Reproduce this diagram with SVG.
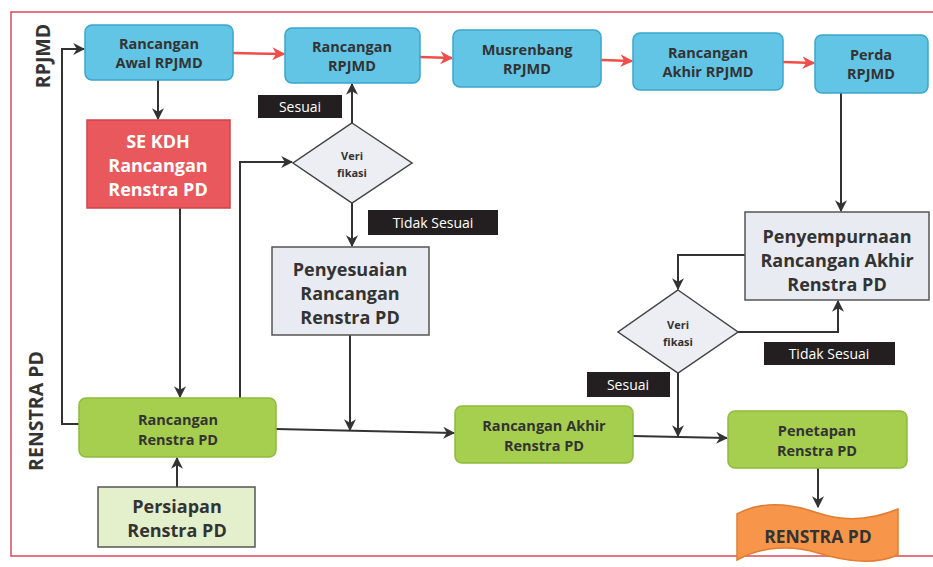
<svg xmlns="http://www.w3.org/2000/svg" width="933" height="567" viewBox="0 0 933 567">
<defs>
<style>
.blue{fill:#62c5e6;stroke:#3aa6cc;stroke-width:1.5}
.green{fill:#a7cf4f;stroke:#8fbb3d;stroke-width:1.5}
.lgreen{fill:#e4efcc;stroke:#555;stroke-width:1.5}
.grey{fill:#e9ebf2;stroke:#555;stroke-width:1.5}
.dia{fill:#eceef4;stroke:#444;stroke-width:1.5}
.red{fill:#e9585d;stroke:#d04448;stroke-width:1.5}
.lbl{fill:#231f20}
text{font-family:"Open Sans","Liberation Sans",sans-serif;font-weight:bold;text-anchor:middle}
.t{font-size:14.5px;fill:#333}
.tb{font-size:18px;fill:#333}
.tw{font-size:18px;fill:#fff}
.td{font-size:11px;fill:#333}
.tl{font-size:14px;fill:#fff;font-weight:normal}
.lane{font-size:19.5px;fill:#333}
.c{fill:none;stroke:#333;stroke-width:2}
.cr{fill:none;stroke:#f04e4a;stroke-width:2.5}
</style>
<marker id="ab" viewBox="0 0 10 10" refX="9" refY="5" markerWidth="12" markerHeight="12" markerUnits="userSpaceOnUse" orient="auto"><path d="M0,0 L10,5 L0,10 L3,5 z" fill="#333"/></marker>
<marker id="ar" viewBox="0 0 10 10" refX="9" refY="5" markerWidth="13" markerHeight="13" markerUnits="userSpaceOnUse" orient="auto"><path d="M0,0 L10,5 L0,10 L3,5 z" fill="#f04e4a"/></marker>
</defs>
<rect width="933" height="567" fill="#fff"/>
<rect x="11" y="12" width="930" height="544" fill="none" stroke="#d9485a" stroke-width="1.5"/>
<text class="lane" transform="translate(50,56) rotate(-90)">RPJMD</text>
<text class="lane" transform="translate(43,411) rotate(-90)">RENSTRA PD</text>

<g id="connectors">
<path class="cr" d="M233,53 L284,54" marker-end="url(#ar)"/>
<path class="cr" d="M420,57 L452,58" marker-end="url(#ar)"/>
<path class="cr" d="M601,60 L632,61" marker-end="url(#ar)"/>
<path class="cr" d="M783,62 L814,63" marker-end="url(#ar)"/>
<path class="c" d="M158,80 V119" marker-end="url(#ab)"/>
<path class="c" d="M180,208 V397" marker-end="url(#ab)"/>
<path class="c" d="M79,424 H62 V49 H84" marker-end="url(#ab)"/>
<path class="c" d="M240,398 V162 H292" marker-end="url(#ab)"/>
<path class="c" d="M352,123 V84" marker-end="url(#ab)"/>
<path class="c" d="M352,203 V246" marker-end="url(#ab)"/>
<path class="c" d="M350,335 V430" marker-end="url(#ab)"/>
<path class="c" d="M276,429 L454,433" marker-end="url(#ab)"/>
<path class="c" d="M177,487 V458" marker-end="url(#ab)"/>
<path class="c" d="M633,436 L727,438" marker-end="url(#ab)"/>
<path class="c" d="M678,373 V436" marker-end="url(#ab)"/>
<path class="c" d="M745,255 H678 V289" marker-end="url(#ab)"/>
<path class="c" d="M738,332 H838 V301" marker-end="url(#ab)"/>
<path class="c" d="M841,93 V211" marker-end="url(#ab)"/>
<path class="c" d="M818,468 V507" marker-end="url(#ab)"/>
</g>

<g id="n-awal"><rect class="blue" x="85" y="25" width="148" height="55" rx="7"/><text class="t" x="159" y="49">Rancangan</text><text class="t" x="159" y="68">Awal RPJMD</text></g>
<g id="n-ranc"><rect class="blue" x="285" y="28" width="135" height="55" rx="7"/><text class="t" x="352" y="52">Rancangan</text><text class="t" x="352" y="71">RPJMD</text></g>
<g id="n-musren"><rect class="blue" x="453" y="30" width="148" height="57" rx="7"/><text class="t" x="527" y="55">Musrenbang</text><text class="t" x="527" y="74">RPJMD</text></g>
<g id="n-akhir"><rect class="blue" x="633" y="33" width="150" height="57" rx="7"/><text class="t" x="708" y="58">Rancangan</text><text class="t" x="708" y="77">Akhir RPJMD</text></g>
<g id="n-perda"><rect class="blue" x="815" y="35" width="113" height="58" rx="7"/><text class="t" x="871" y="60">Perda</text><text class="t" x="871" y="79">RPJMD</text></g>

<g id="n-sekdh"><rect class="red" x="87" y="120" width="143" height="88"/><text class="tw" x="158" y="148">SE KDH</text><text class="tw" x="158" y="172">Rancangan</text><text class="tw" x="158" y="196">Renstra PD</text></g>

<g id="n-ver1"><polygon class="dia" points="352,123 412,163 352,203 293,163"/><text class="td" x="352" y="160">Veri</text><text class="td" x="352" y="177">fikasi</text></g>
<g id="l-sesuai1"><rect class="lbl" x="258" y="95" width="84" height="23"/><text class="tl" x="300" y="112">Sesuai</text></g>
<g id="l-tidak1"><rect class="lbl" x="368" y="210" width="130" height="25"/><text class="tl" x="433" y="228">Tidak Sesuai</text></g>

<g id="n-penyesuaian"><rect class="grey" x="272" y="247" width="157" height="88"/><text class="tb" x="350" y="276">Penyesuaian</text><text class="tb" x="350" y="300">Rancangan</text><text class="tb" x="350" y="324">Renstra PD</text></g>

<g id="n-rrenstra"><rect class="green" x="79" y="398" width="197" height="59" rx="7"/><text class="t" x="178" y="425">Rancangan</text><text class="t" x="178" y="445">Renstra PD</text></g>
<g id="n-persiapan"><rect class="lgreen" x="98" y="487" width="157" height="60"/><text class="tb" x="177" y="513">Persiapan</text><text class="tb" x="177" y="537">Renstra PD</text></g>

<g id="n-rakhir"><rect class="green" x="455" y="406" width="178" height="57" rx="7"/><text class="t" x="544" y="431">Rancangan Akhir</text><text class="t" x="544" y="451">Renstra PD</text></g>
<g id="n-penetapan"><rect class="green" x="728" y="411" width="179" height="57" rx="7"/><text class="t" x="817" y="436">Penetapan</text><text class="t" x="817" y="456">Renstra PD</text></g>

<g id="n-penyempurnaan"><rect class="grey" x="745" y="212" width="184" height="88"/><text class="tb" x="837" y="243">Penyempurnaan</text><text class="tb" x="837" y="267">Rancangan Akhir</text><text class="tb" x="837" y="291">Renstra PD</text></g>

<g id="n-ver2"><polygon class="dia" points="678,290 738,332 678,373 618,332"/><text class="td" x="678" y="329">Veri</text><text class="td" x="678" y="346">fikasi</text></g>
<g id="l-sesuai2"><rect class="lbl" x="587" y="372" width="83" height="25"/><text class="tl" x="628" y="390">Sesuai</text></g>
<g id="l-tidak2"><rect class="lbl" x="764" y="342" width="131" height="23"/><text class="tl" x="829" y="359">Tidak Sesuai</text></g>

<g id="n-renstra"><path d="M737,514 C762,500 792,504 818,513 C848,523 874,519 898,509 L898,555 C874,565 848,562 818,553 C792,545 762,546 737,560 Z" fill="#f7964a" stroke="#e07d30" stroke-width="1.5"/><text x="818" y="543" style="font-size:17.5px;fill:#333">RENSTRA PD</text></g>
</svg>
